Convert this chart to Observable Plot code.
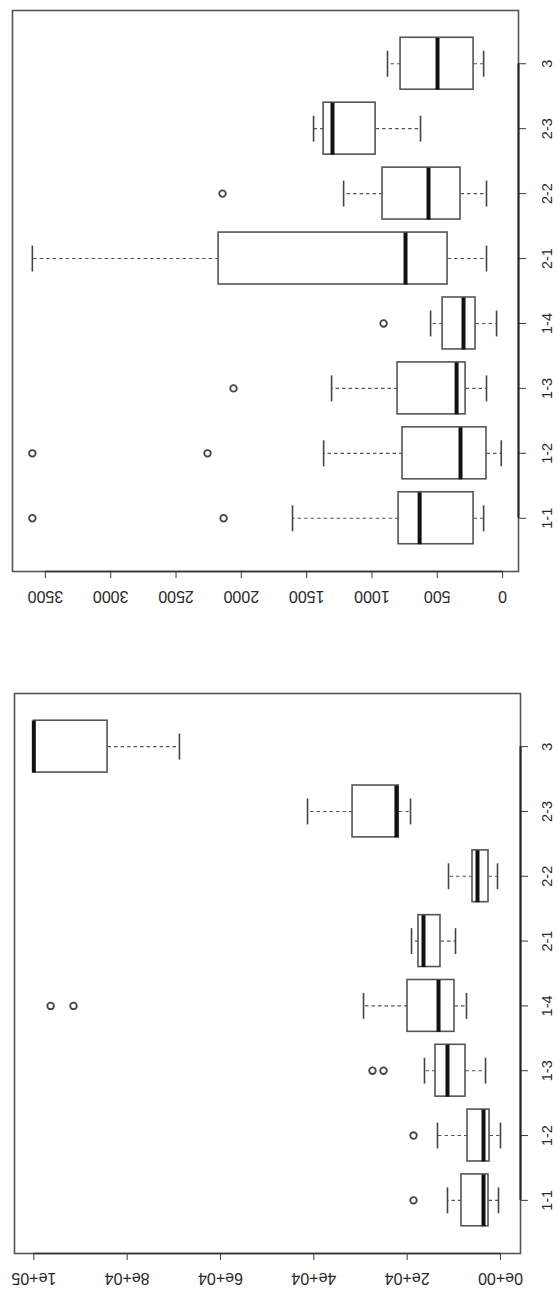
<!DOCTYPE html>
<html>
<head>
<meta charset="utf-8">
<script src="https://cdn.jsdelivr.net/npm/d3@7"></script>
<script src="https://cdn.jsdelivr.net/npm/@observablehq/plot@0.6"></script>
<style>
  html, body { margin: 0; padding: 0; background: #fff; }
  #chart svg { display: block; }
</style>
</head>
<body>
<div id="chart"></div>
<script>
// categories (shared by both panels)
const categories = ["1-1", "1-2", "1-3", "1-4", "2-1", "2-2", "2-3", "3"];

// top panel (0 – 3500)
const topLow    = [145,   10,  123,   46,  123,  123,  628, 145];
const topQ1     = [222,  123,  283,  207,  421,  322,  972, 222];
const topMedian = [635,  322,  352,  299,  743,  567, 1302, 498];
const topQ3     = [796,  766,  804,  459, 2174,  919, 1370, 781];
const topHigh   = [1608, 1370, 1309, 551, 3600, 1217, 1447, 881];
const topOutCat = ["1-1", "1-1", "1-2", "1-2", "1-3", "1-4", "2-2"];
const topOutVal = [2136, 3600, 2259, 3600, 2060, 911, 2144];
const topTicks  = [0, 500, 1000, 1500, 2000, 2500, 3000, 3500];
const topTickLabels = ["0", "500", "1000", "1500", "2000", "2500", "3000", "3500"];

// bottom panel (0 – 1e+05)
const botLow    = [430,     0,  3210,  7290,  9640,   640, 19280,  68800];
const botQ1     = [2570,  2350,  7500,  9860, 12860,  2570, 21800,  84200];
const botMedian = [3640,  3640, 11360, 13280, 16500,  4930, 22300, 100000];
const botQ3     = [8360,  7070, 13930, 19930, 17570,  6000, 31700, 100000];
const botHigh   = [11360, 13500, 16290, 29350, 19070, 11140, 41350, 100000];
const botOutCat = ["1-1", "1-2", "1-3", "1-3", "1-4", "1-4"];
const botOutVal = [18640, 18640, 25070, 27430, 91500, 96400];
const botTicks  = [0, 20000, 40000, 60000, 80000, 100000];
const botTickLabels = ["0e+00", "2e+04", "4e+04", "6e+04", "8e+04", "1e+05"];

const FONT = "'Liberation Sans', Arial, sans-serif";
const INK = "#3a3a3a";

function panel({low, q1, med, q3, high, outCat, outVal, ticks, tickLabels,
                xDomain, height, margins, catDx, valDy}) {
  const rows = categories.map((c, k) => ({
    cat: c, i: k + 1, low: low[k], q1: q1[k], med: med[k], q3: q3[k], high: high[k]
  }));
  const outs = outCat.map((c, k) => ({i: categories.indexOf(c) + 1, v: outVal[k]}));
  const tickRows = ticks.map((t, k) => ({t, label: tickLabels[k]}));
  const n = categories.length;
  const ext = 0.04 * (n + 0.5 - 0.5);
  const yDomain = [0.5 - ext, n + 0.5 + ext];
  const dash = "3.5,3";
  return Plot.plot({
    width: 558,
    height,
    ...margins,
    style: {fontFamily: FONT, background: "white"},
    x: {domain: xDomain},
    y: {domain: yDomain},
    marks: [
      // whiskers (dashed)
      Plot.link(rows, {x1: "q3", x2: "high", y1: "i", y2: "i", stroke: "#555", strokeWidth: 1.1, strokeDasharray: dash}),
      Plot.link(rows, {x1: "q1", x2: "low", y1: "i", y2: "i", stroke: "#555", strokeWidth: 1.1, strokeDasharray: dash}),
      // staples
      Plot.link(rows, {x1: "high", x2: "high", y1: d => d.i - 0.2, y2: d => d.i + 0.2, stroke: "#444", strokeWidth: 1.6}),
      Plot.link(rows, {x1: "low", x2: "low", y1: d => d.i - 0.2, y2: d => d.i + 0.2, stroke: "#444", strokeWidth: 1.6}),
      // boxes
      Plot.rect(rows, {x1: "q1", x2: "q3", y1: d => d.i - 0.4, y2: d => d.i + 0.4, fill: "white", stroke: "#555", strokeWidth: 1.6}),
      // medians
      Plot.link(rows, {x1: "med", x2: "med", y1: d => d.i - 0.4, y2: d => d.i + 0.4, stroke: "#111", strokeWidth: 4}),
      // outliers
      Plot.dot(outs, {x: "v", y: "i", r: 3.3, stroke: "#444", strokeWidth: 1.8, fill: "none"}),
      // frame
      Plot.frame({stroke: "#555", strokeWidth: 1.6}),
      // value axis (ticks + upside-down labels)
      Plot.axisX({anchor: "bottom", ticks, tickSize: 7, tickFormat: () => "", label: null, stroke: INK}),
      Plot.ruleY([yDomain[0]], {x1: ticks[0], x2: ticks[ticks.length - 1], stroke: "#333", strokeWidth: 1.6}),
      Plot.text(tickRows, {x: "t", frameAnchor: "bottom", dy: valDy, text: "label", rotate: 180,
        textAnchor: "middle", lineAnchor: "middle", fontSize: 16, fill: "#2a2a2a"}),
      // category axis (right side, labels reading upward)
      Plot.axisY({anchor: "right", ticks: rows.map(d => d.i), tickSize: 7, tickFormat: () => "", label: null, stroke: INK}),
      Plot.ruleX([xDomain[1]], {y1: 1, y2: n, stroke: "#222", strokeWidth: 2}),
      Plot.text(rows, {y: "i", frameAnchor: "right", dx: catDx, text: "cat", rotate: -90,
        textAnchor: "middle", lineAnchor: "middle", fontSize: 14.5, fill: "#2a2a2a"})
    ]
  });
}

const topPlot = panel({
  low: topLow, q1: topQ1, med: topMedian, q3: topQ3, high: topHigh,
  outCat: topOutCat, outVal: topOutVal, ticks: topTicks, tickLabels: topTickLabels,
  xDomain: [3752, -122], height: 640,
  margins: {marginTop: 10, marginBottom: 69, marginLeft: 12, marginRight: 40},
  catDx: 29, valDy: 25
});

const botPlot = panel({
  low: botLow, q1: botQ1, med: botMedian, q3: botQ3, high: botHigh,
  outCat: botOutCat, outVal: botOutVal, ticks: botTicks, tickLabels: botTickLabels,
  xDomain: [104140, -4286], height: 657,
  margins: {marginTop: 53, marginBottom: 44, marginLeft: 14, marginRight: 38},
  catDx: 27, valDy: 25
});

const root = document.getElementById("chart");
root.appendChild(topPlot);
root.appendChild(botPlot);
</script>
</body>
</html>
